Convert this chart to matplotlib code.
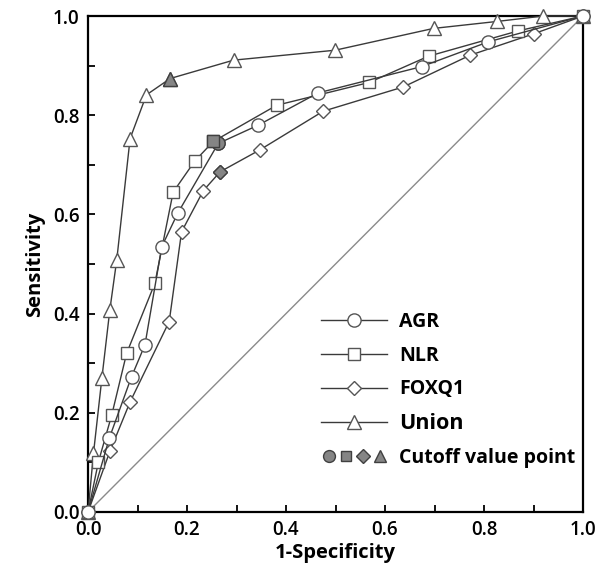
import matplotlib
matplotlib.use("Agg")
import matplotlib.pyplot as plt
from matplotlib.lines import Line2D
from matplotlib.legend_handler import HandlerTuple

plt.rcParams['font.family'] = ['Open Sans', 'DejaVu Sans']

# ROC points (1-specificity, sensitivity)
agr_x = [0, 0.043, 0.088, 0.115, 0.149, 0.181, 0.263, 0.344, 0.465, 0.674, 0.809, 1.0]
agr_y = [0, 0.149, 0.273, 0.337, 0.535, 0.602, 0.743, 0.780, 0.845, 0.898, 0.948, 1.0]

nlr_x = [0, 0.021, 0.048, 0.078, 0.135, 0.172, 0.216, 0.253, 0.381, 0.568, 0.688, 0.869, 1.0]
nlr_y = [0, 0.101, 0.196, 0.320, 0.461, 0.645, 0.708, 0.747, 0.820, 0.866, 0.919, 0.970, 1.0]

foxq1_x = [0, 0.044, 0.085, 0.164, 0.189, 0.233, 0.267, 0.347, 0.475, 0.637, 0.772, 0.900, 1.0]
foxq1_y = [0, 0.122, 0.222, 0.384, 0.565, 0.648, 0.686, 0.730, 0.808, 0.857, 0.921, 0.964, 1.0]

union_x = [0, 0.011, 0.028, 0.044, 0.058, 0.085, 0.118, 0.166, 0.294, 0.499, 0.698, 0.826, 0.920, 1.0]
union_y = [0, 0.118, 0.270, 0.407, 0.508, 0.753, 0.841, 0.874, 0.911, 0.931, 0.975, 0.989, 1.0, 1.0]

# index of the cutoff point in each series
cutoff_idx = {"AGR": 6, "NLR": 7, "FOXQ1": 6, "Union": 7}

line_col = "#3a3a3a"
edge_col = "#555555"
fill_col = "#858585"

fig = plt.figure(figsize=(5.96, 5.78), dpi=100)
ax = fig.add_axes([0.1477, 0.1142, 0.8305, 0.8581])

ax.plot([0, 1], [0, 1], color="#8a8a8a", lw=1.0, zorder=1)

series = [
    ("Union", union_x, union_y, "^", 10),
    ("FOXQ1", foxq1_x, foxq1_y, "D", 7.5),
    ("NLR", nlr_x, nlr_y, "s", 8.5),
    ("AGR", agr_x, agr_y, "o", 9.5),
]
cut_z = {"Union": 4, "FOXQ1": 4, "AGR": 4, "NLR": 5}

handles = {}
for name, xs, ys, m, ms in series:
    h, = ax.plot(xs, ys, color=line_col, lw=1.0, marker=m, markersize=ms,
                 markerfacecolor="white", markeredgecolor=edge_col,
                 markeredgewidth=1.0, clip_on=False, zorder=3, label=name)
    handles[name] = h
    i = cutoff_idx[name]
    ax.plot(xs[i], ys[i], linestyle="none", marker=m, markersize=ms,
            markerfacecolor=fill_col, markeredgecolor="#404040",
            markeredgewidth=1.0, zorder=cut_z[name])

ax.set_xlim(0, 1)
ax.set_ylim(0, 1)
ax.set_xticks([0, 0.2, 0.4, 0.6, 0.8, 1.0])
ax.set_yticks([0, 0.2, 0.4, 0.6, 0.8, 1.0])
ax.set_xticks([0.1, 0.3, 0.5, 0.7, 0.9], minor=True)
ax.set_yticks([0.1, 0.3, 0.5, 0.7, 0.9], minor=True)
ax.set_xticklabels(["0.0", "0.2", "0.4", "0.6", "0.8", "1.0"])
ax.set_yticklabels(["0.0", "0.2", "0.4", "0.6", "0.8", "1.0"])
ax.tick_params(which="both", direction="in", length=5, width=1.3,
               labelsize=13.5, top=False, right=False, pad=6)
for lab in ax.get_xticklabels() + ax.get_yticklabels():
    lab.set_fontweight("semibold")
for sp in ax.spines.values():
    sp.set_linewidth(1.6)

ax.set_xlabel("1-Specificity", fontsize=14.5, fontweight="bold", labelpad=2)
ax.set_ylabel("Sensitivity", fontsize=14.5, fontweight="bold", labelpad=6)

# legend: four curves plus a row of the filled cutoff markers
cut_handles = tuple(
    Line2D([], [], linestyle="none", marker=m, markersize=ms * 0.9,
           markerfacecolor=fill_col, markeredgecolor="#404040", markeredgewidth=1.0)
    for m, ms in [("o", 9.5), ("s", 8.5), ("D", 7.5), ("^", 10)]
)
leg = ax.legend(
    [handles["AGR"], handles["NLR"], handles["FOXQ1"], handles["Union"], cut_handles],
    ["AGR", "NLR", "FOXQ1", "Union", "Cutoff value point"],
    handler_map={tuple: HandlerTuple(ndivide=None, pad=0.1)},
    loc="lower right", bbox_to_anchor=(1.012, 0.062), frameon=False,
    prop={"weight": "bold", "size": 14}, handlelength=3.4,
    handletextpad=0.6, labelspacing=0.7, borderpad=0.2,
)
leg.get_texts()[3].set_fontsize(15.5)

fig.savefig("out.png", dpi=100)
